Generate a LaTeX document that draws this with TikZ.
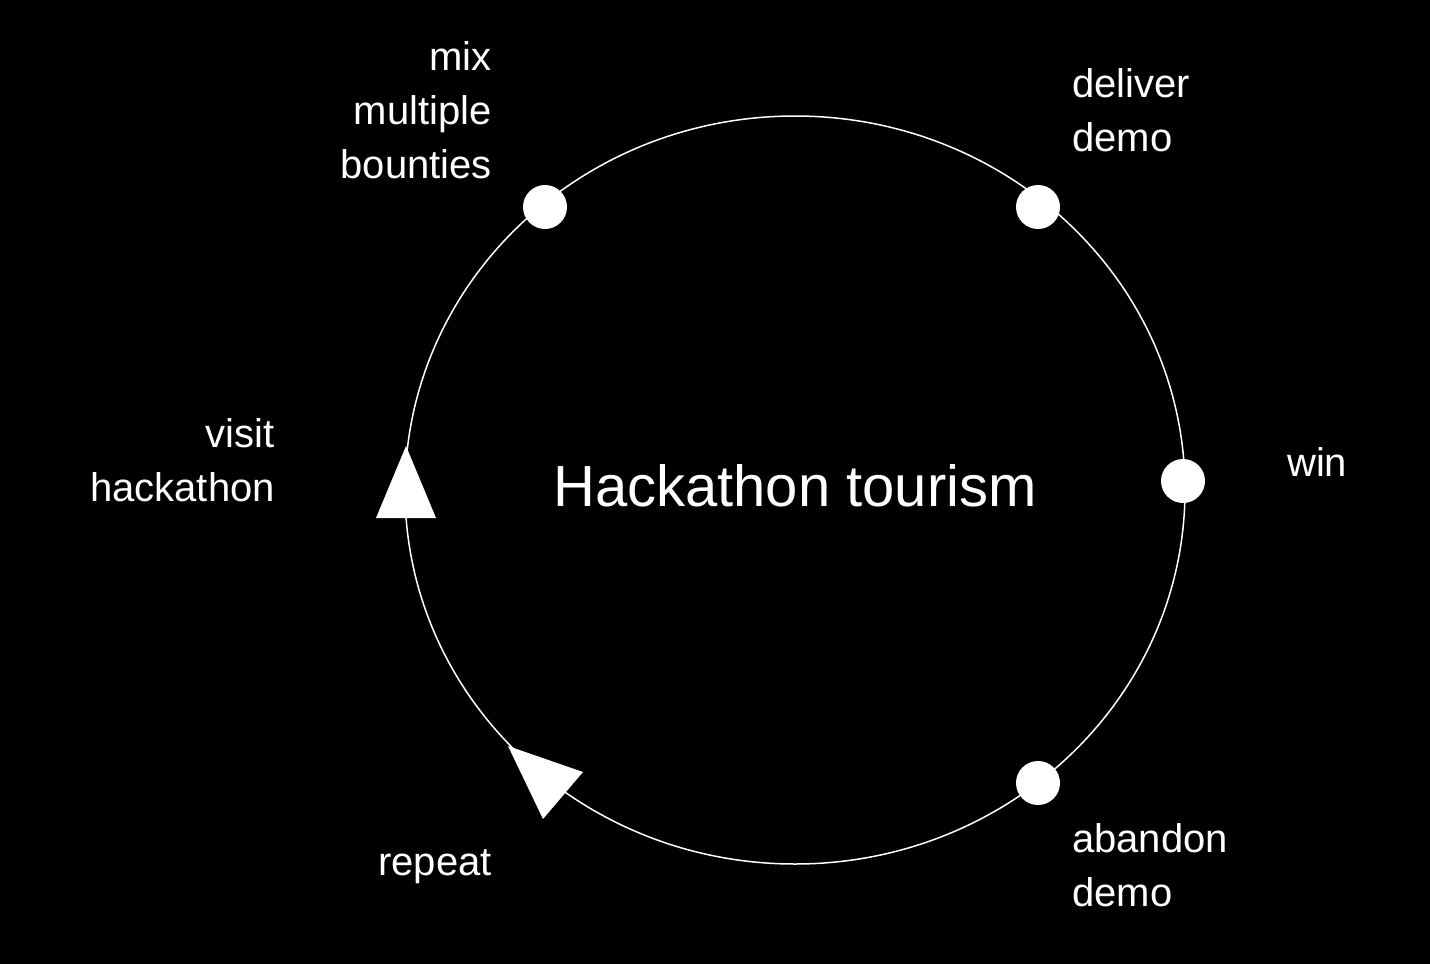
\documentclass[tikz,border=0pt]{standalone}
\usepackage{fontspec}
\setmainfont{Liberation Sans}
\begin{document}
\begin{tikzpicture}[x=1pt,y=-1pt,
  lbl/.style={text=white,font=\fontsize{40}{54}\selectfont,inner sep=0pt},
  dot/.style={circle,fill=white,minimum size=44pt,inner sep=0pt}]
\fill[black] (0,0) rectangle (1430,964);
\useasboundingbox (0,0) rectangle (1430,964);
\draw[white,line width=1.5pt] (795,490) ellipse [x radius=390,y radius=374];
\node[dot] (d1) at (545,207) {};
\node[dot] (d2) at (1038,207) {};
\node[dot] (d3) at (1183,481) {};
\node[dot] (d4) at (1038,783) {};
\fill[white] (406,446) -- (376,518) -- (436,518) -- cycle;
\fill[white] (508,746) -- (583,772) -- (543,819) -- cycle;
\node[text=white,font=\fontsize{58}{60}\selectfont,inner sep=0pt] (title) at (795,486) {Hackathon tourism};
\node[lbl,align=right,anchor=east] (t1) at (492,110) {mix\\multiple\\bounties};
\node[lbl,align=left,anchor=west] (t2) at (1072,110) {deliver\\demo};
\node[lbl,anchor=west] (t3) at (1287,462) {win};
\node[lbl,align=right,anchor=east] (t4) at (275,460) {visit\\hackathon};
\node[lbl,anchor=east] (t5) at (492,867) {repeat};
\node[lbl,align=left,anchor=west] (t6) at (1072,865) {abandon\\demo};
\end{tikzpicture}
\end{document}
